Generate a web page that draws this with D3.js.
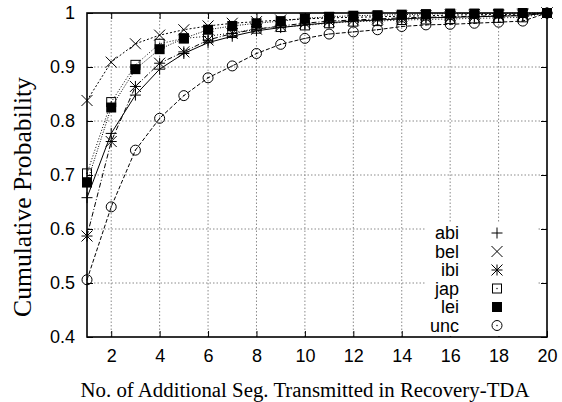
<!DOCTYPE html>
<html>
<head>
<meta charset="utf-8">
<script src="https://cdn.jsdelivr.net/npm/d3@7"></script>
<style>
  html, body { margin: 0; padding: 0; background: #fff; }
  svg { display: block; }
</style>
</head>
<body>
<svg id="chart" width="562" height="402"></svg>
<script>
// Number of additional segments (x) and cumulative probability for each trace
const segments = d3.range(1, 21);
const abi = [0.658, 0.777, 0.848, 0.896, 0.925, 0.945, 0.957, 0.967, 0.973, 0.978, 0.982, 0.985, 0.987, 0.989, 0.991, 0.992, 0.993, 0.994, 0.995, 1.000];
const bel = [0.838, 0.909, 0.943, 0.959, 0.969, 0.976, 0.981, 0.984, 0.987, 0.989, 0.991, 0.992, 0.993, 0.994, 0.995, 0.996, 0.997, 0.997, 0.998, 1.000];
const ibi = [0.587, 0.762, 0.864, 0.907, 0.928, 0.950, 0.962, 0.970, 0.976, 0.981, 0.985, 0.987, 0.989, 0.991, 0.992, 0.993, 0.994, 0.995, 0.996, 1.000];
const jap = [0.703, 0.835, 0.904, 0.943, 0.953, 0.957, 0.963, 0.971, 0.974, 0.977, 0.981, 0.984, 0.985, 0.987, 0.988, 0.989, 0.990, 0.991, 0.992, 1.000];
const lei = [0.686, 0.825, 0.896, 0.933, 0.953, 0.969, 0.976, 0.981, 0.985, 0.990, 0.993, 0.995, 0.996, 0.997, 0.998, 0.999, 0.999, 0.999, 1.000, 1.000];
const unc = [0.506, 0.641, 0.746, 0.805, 0.847, 0.880, 0.902, 0.925, 0.942, 0.953, 0.961, 0.965, 0.969, 0.975, 0.978, 0.979, 0.981, 0.983, 0.985, 1.000];

const seriesNames = ["abi", "bel", "ibi", "jap", "lei", "unc"];
const seriesValues = [abi, bel, ibi, jap, lei, unc];
const xTicks = [2, 4, 6, 8, 10, 12, 14, 16, 18, 20];
const yTicks = [0.4, 0.5, 0.6, 0.7, 0.8, 0.9, 1.0];
const yTickLabels = ["0.4", "0.5", "0.6", "0.7", "0.8", "0.9", "1"];

// Per-series line dash and marker type
const styles = {
  abi: { dash: null,  marker: "plus" },
  bel: { dash: "2,2", marker: "cross" },
  ibi: { dash: "5,2,1,2", marker: "star" },
  jap: { dash: "1,2", marker: "openBox" },
  lei: { dash: "1,1.5", marker: "solidBox" },
  unc: { dash: "4,2", marker: "circle" }
};

const svg = d3.select("#chart");
const L = 87, R = 547, T = 13, B = 337;

const x = d3.scaleLinear().domain([1, 20]).range([L, R]);
const y = d3.scaleLinear().domain([0.4, 1]).range([B, T]);

const sansFont = "'Liberation Sans', Arial, Helvetica, sans-serif";
const serifFont = "'Liberation Serif', 'Times New Roman', serif";
const tickFontSize = 18;

// Grid
const grid = svg.append("g");
xTicks.filter(v => v < 20).forEach(v => {
  grid.append("line")
    .attr("x1", x(v)).attr("x2", x(v)).attr("y1", B).attr("y2", T)
    .attr("stroke", "#8a8a8a").attr("stroke-width", 1).attr("stroke-dasharray", "1.5,2");
});
yTicks.filter(v => v > 0.4 && v < 1).forEach(v => {
  grid.append("line")
    .attr("x1", L).attr("x2", R).attr("y1", y(v)).attr("y2", y(v))
    .attr("stroke", "#8a8a8a").attr("stroke-width", 1).attr("stroke-dasharray", "1.5,2");
});

// Axes with inward ticks, mirrored on the top and right borders
const xAxis = d3.axisBottom(x).tickValues(xTicks).tickSizeInner(-6).tickSizeOuter(0).tickPadding(14);
const yAxis = d3.axisLeft(y).tickValues(yTicks).tickFormat((d, i) => yTickLabels[i]).tickSizeInner(-6).tickSizeOuter(0).tickPadding(12);

const gx = svg.append("g").attr("transform", `translate(0,${B})`).call(xAxis);
const gy = svg.append("g").attr("transform", `translate(${L},0)`).call(yAxis);
const gxTop = svg.append("g").attr("transform", `translate(0,${T})`)
  .call(d3.axisTop(x).tickValues(xTicks).tickSizeInner(-6).tickSizeOuter(0).tickFormat(""));
const gyRight = svg.append("g").attr("transform", `translate(${R},0)`)
  .call(d3.axisRight(y).tickValues(yTicks).tickSizeInner(-6).tickSizeOuter(0).tickFormat(""));

[gx, gy, gxTop, gyRight].forEach(g => {
  g.select(".domain").remove();
  g.selectAll(".tick line").attr("stroke", "#000").attr("stroke-width", 1);
  g.selectAll("text").attr("font-family", sansFont).attr("font-size", tickFontSize).attr("fill", "#000");
});
gx.selectAll("text").attr("dy", "0.62em");

// Series lines and markers
const line = d3.line().x((d, i) => x(segments[i])).y(d => y(d));

function drawMarker(g, type, cx, cy) {
  const s = 5.5;
  const seg = (x1, y1, x2, y2) => {
    g.append("line").attr("x1", x1).attr("y1", y1).attr("x2", x2).attr("y2", y2)
      .attr("stroke", "#000").attr("stroke-width", 1);
  };
  if (type === "plus") {
    seg(cx - s, cy, cx + s, cy); seg(cx, cy - s, cx, cy + s);
  } else if (type === "cross") {
    seg(cx - s, cy - s, cx + s, cy + s); seg(cx - s, cy + s, cx + s, cy - s);
  } else if (type === "star") {
    seg(cx - s, cy, cx + s, cy); seg(cx, cy - s, cx, cy + s);
    seg(cx - s, cy - s, cx + s, cy + s); seg(cx - s, cy + s, cx + s, cy - s);
  } else if (type === "openBox") {
    g.append("rect").attr("x", cx - 4.5).attr("y", cy - 4.5).attr("width", 9).attr("height", 9)
      .attr("fill", "none").attr("stroke", "#000").attr("stroke-width", 1);
    g.append("circle").attr("cx", cx).attr("cy", cy).attr("r", 0.7).attr("fill", "#000");
  } else if (type === "solidBox") {
    g.append("rect").attr("x", cx - 5).attr("y", cy - 5).attr("width", 10).attr("height", 10)
      .attr("fill", "#000");
  } else if (type === "circle") {
    g.append("circle").attr("cx", cx).attr("cy", cy).attr("r", 5)
      .attr("fill", "none").attr("stroke", "#000").attr("stroke-width", 1);
    g.append("circle").attr("cx", cx).attr("cy", cy).attr("r", 0.7).attr("fill", "#000");
  }
}

const plot = svg.append("g");
seriesNames.forEach((name, k) => {
  const vals = seriesValues[k];
  const st = styles[name];
  const g = plot.append("g");
  const path = g.append("path").datum(vals).attr("d", line)
    .attr("fill", "none").attr("stroke", "#000").attr("stroke-width", 1);
  if (st.dash) path.attr("stroke-dasharray", st.dash);
  vals.forEach((v, i) => drawMarker(g, st.marker, x(segments[i]), y(v)));
});

// Legend on a white patch inside the plot
const legend = svg.append("g");
legend.append("rect").attr("x", 425).attr("y", 222).attr("width", 112).attr("height", B - 222 - 1)
  .attr("fill", "#fff");
seriesNames.forEach((name, k) => {
  const ly = 233 + k * 18.5;
  legend.append("text").attr("x", 459).attr("y", ly).attr("dy", "0.35em")
    .attr("text-anchor", "end").attr("font-family", sansFont).attr("font-size", 18)
    .text(name);
  drawMarker(legend, styles[name].marker, 497, ly);
});

// Plot border
svg.append("rect").attr("x", L).attr("y", T).attr("width", R - L).attr("height", B - T)
  .attr("fill", "none").attr("stroke", "#000").attr("stroke-width", 1.6);

// Axis titles, sized to span their measured widths
function fitText(sel, target) {
  const base = 20;
  sel.attr("font-size", base);
  const w = sel.node().getComputedTextLength();
  sel.attr("font-size", base * target / w);
}
const xTitle = svg.append("text").attr("x", 305).attr("y", 397)
  .attr("text-anchor", "middle").attr("font-family", serifFont)
  .text("No. of Additional Seg. Transmitted in Recovery-TDA");
fitText(xTitle, 449);
const yTitle = svg.append("text").attr("transform", `translate(31,197) rotate(-90)`)
  .attr("text-anchor", "middle").attr("font-family", serifFont)
  .text("Cumulative Probability");
fitText(yTitle, 240);
</script>
</body>
</html>
